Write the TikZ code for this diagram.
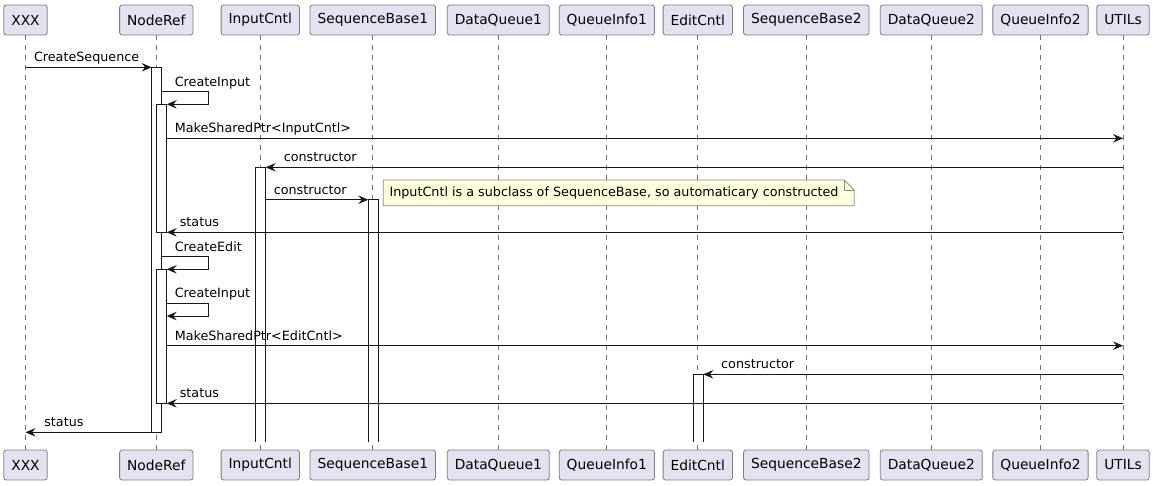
\documentclass[tikz,border=0pt]{standalone}
\usepackage{fontspec}
\setmainfont{DejaVu Sans}
\usetikzlibrary{arrows.meta}
\definecolor{partfill}{RGB}{226,226,240}
\definecolor{partline}{RGB}{125,125,125}
\definecolor{notefill}{RGB}{254,255,221}
\definecolor{noteline}{RGB}{140,140,140}
\definecolor{ink}{RGB}{24,24,24}

\begin{document}
\begin{tikzpicture}[x=1pt, y=-1pt,
  part/.style={rectangle, rounded corners=2.5pt, draw=partline, fill=partfill, line width=0.8pt,
    minimum height=30pt, inner xsep=7.5pt, inner ysep=0pt, font=\fontsize{13.8pt}{16pt}\selectfont},
  life/.style={draw=black!55, line width=0.7pt, dash pattern=on 5pt off 5pt},
  act/.style={rectangle, draw=ink, fill=white, line width=1pt, minimum width=10pt,
    inner sep=0pt, outer sep=0pt, anchor=north},
  actopen/.style={act, draw=none},
  side/.style={draw=ink, line width=1pt},
  msg/.style={draw=ink, line width=1pt, -{Stealth[length=10pt, width=8.5pt, inset=3.5pt]}},
  lbl/.style={anchor=base west, inner sep=0pt, yshift=5.6pt, font=\fontsize{12.75pt}{15pt}\selectfont},
  notebox/.style={draw=noteline, fill=notefill, line width=0.8pt},
  notetxt/.style={anchor=west, inner sep=0pt, font=\fontsize{12.75pt}{15pt}\selectfont}]
  \useasboundingbox (0,0) rectangle (1153,485);

  % participants, top and bottom
  \node[part] (xxxT) at (25.5,20) {XXX};
  \node[part] (nrT) at (156.3,20) {NodeRef};
  \node[part] (icT) at (260.3,20) {InputCntl};
  \node[part] (sb1T) at (372.8,20) {SequenceBase1};
  \node[part] (dq1T) at (498.3,20) {DataQueue1};
  \node[part] (qi1T) at (606.8,20) {QueueInfo1};
  \node[part] (ecT) at (697.8,20) {EditCntl};
  \node[part] (sb2T) at (806.3,20) {SequenceBase2};
  \node[part] (dq2T) at (931.3,20) {DataQueue2};
  \node[part] (qi2T) at (1040.5,20) {QueueInfo2};
  \node[part] (utT) at (1123,20) {UTILs};
  \node[part] (xxxB) at (25.5,465) {XXX};
  \node[part] (nrB) at (156.3,465) {NodeRef};
  \node[part] (icB) at (260.3,465) {InputCntl};
  \node[part] (sb1B) at (372.8,465) {SequenceBase1};
  \node[part] (dq1B) at (498.3,465) {DataQueue1};
  \node[part] (qi1B) at (606.8,465) {QueueInfo1};
  \node[part] (ecB) at (697.8,465) {EditCntl};
  \node[part] (sb2B) at (806.3,465) {SequenceBase2};
  \node[part] (dq2B) at (931.3,465) {DataQueue2};
  \node[part] (qi2B) at (1040.5,465) {QueueInfo2};
  \node[part] (utB) at (1123,465) {UTILs};

  % lifelines
  \draw[life] (xxxT) -- (xxxB);
  \draw[life] (nrT) -- (nrB);
  \draw[life] (icT) -- (icB);
  \draw[life] (sb1T) -- (sb1B);
  \draw[life] (dq1T) -- (dq1B);
  \draw[life] (qi1T) -- (qi1B);
  \draw[life] (ecT) -- (ecB);
  \draw[life] (sb2T) -- (sb2B);
  \draw[life] (dq2T) -- (dq2B);
  \draw[life] (qi2T) -- (qi2B);
  \draw[life] (utT) -- (utB);

  % note
  \coordinate (ntNW) at (383.3,180);
  \coordinate (ntNE) at (854.3,180);
  \coordinate (ntSE) at (854.3,205.7);
  \draw[notebox] (ntNW) -- ([xshift=-10pt]ntNE) -- ([yshift=-10pt]ntNE) -- (ntSE) -- (ntNW |- ntSE) -- cycle;
  \draw[draw=noteline, line width=0.8pt] ([xshift=-10pt]ntNE) |- ([yshift=-10pt]ntNE);
  \node[notetxt] (nt) at (389.3,192.9) {InputCntl is a subclass of SequenceBase, so automaticary constructed};

  % activations
  \node[act, minimum height=365pt] (nrAct1) at (156.7,67.3) {};
  \node[act, minimum height=128pt] (nrAct2) at (161.7,104.3) {};
  \node[act, minimum height=134pt] (nrAct3) at (161.7,269.3) {};
  \node[actopen, minimum height=274.4pt] (icAct) at (260.7,167.3) {};
  \node[actopen, minimum height=242pt] (sbAct) at (373.3,199.7) {};
  \node[actopen, minimum height=67.4pt] (ecAct) at (698.3,374.3) {};
  % these run on to the end, open at the bottom
  \draw[side] (icAct.south west) -- (icAct.north west) -- (icAct.north east) -- (icAct.south east);
  \draw[side] (sbAct.south west) -- (sbAct.north west) -- (sbAct.north east) -- (sbAct.south east);
  \draw[side] (ecAct.south west) -- (ecAct.north west) -- (ecAct.north east) -- (ecAct.south east);

  % rows of the self calls and calls to UTILs
  \coordinate (ci1) at (208.3,91.7);
  \coordinate (msp1) at (0,138.3);
  \coordinate (ce) at (208.3,256.7);
  \coordinate (ci2) at (208.3,303.3);
  \coordinate (ci2e) at (0,316);
  \coordinate (msp2) at (0,345.7);

  % messages
  \draw[msg] (xxxT |- nrAct1.north) node[lbl, xshift=8pt] {CreateSequence} -- (nrAct1.north west);
  \draw[msg] (nrAct1.east |- ci1) node[lbl, xshift=12.6pt] {CreateInput} -- (ci1) |- (nrAct2.north east);
  \draw[msg] (nrAct2.east |- msp1) node[lbl, xshift=7.6pt] {MakeSharedPtr<InputCntl>} -- (utT |- msp1);
  \draw[msg] (utT |- icAct.north) -- (icAct.north east) node[lbl, xshift=17.6pt] {constructor};
  \draw[msg] (icAct.east |- sbAct.north) node[lbl, xshift=7.6pt] {constructor} -- (sbAct.north west);
  \draw[msg] (utT |- nrAct2.south) -- (nrAct2.south east) node[lbl, xshift=12.6pt] {status};
  \draw[msg] (nrAct1.east |- ce) node[lbl, xshift=12.6pt] {CreateEdit} -- (ce) |- (nrAct3.north east);
  \draw[msg] (nrAct3.east |- ci2) node[lbl, xshift=7.6pt] {CreateInput} -- (ci2) |- (nrAct3.east |- ci2e);
  \draw[msg] (nrAct3.east |- msp2) node[lbl, xshift=7.6pt] {MakeSharedPtr<EditCntl>} -- (utT |- msp2);
  \draw[msg] (utT |- ecAct.north) -- (ecAct.north east) node[lbl, xshift=17.4pt] {constructor};
  \draw[msg] (utT |- nrAct3.south) -- (nrAct3.south east) node[lbl, xshift=12.6pt] {status};
  \draw[msg] (nrAct1.south west) -- (xxxT |- nrAct1.south) node[lbl, xshift=18.3pt] {status};
\end{tikzpicture}
\end{document}
